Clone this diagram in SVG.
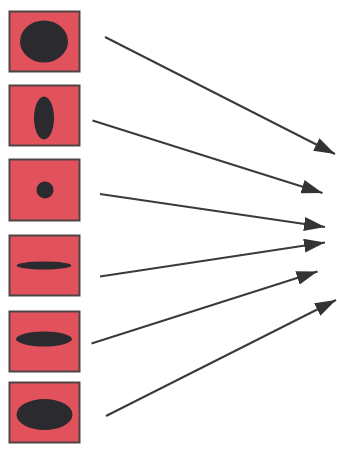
<svg xmlns="http://www.w3.org/2000/svg" width="337" height="450" viewBox="0 0 337 450">
<style>
.box{fill:#e2525c;stroke:#4e4446;stroke-width:2}
.blob{fill:#2b2a2e}
.arr{stroke:#3a3a3a;stroke-width:2;fill:none;marker-end:url(#ah)}
</style>
<defs>
<marker id="ah" markerUnits="userSpaceOnUse" markerWidth="22" markerHeight="14" refX="21" refY="7" orient="auto">
<path d="M0,0 L21,7 L0,14 Z" fill="#333"/>
</marker>
</defs>
<rect width="337" height="450" fill="#fff"/>
<g id="node1"><rect class="box" x="9.5" y="11.5" width="70" height="60"/><ellipse class="blob" cx="44" cy="41.5" rx="24" ry="21"/></g>
<g id="node2"><rect class="box" x="9.5" y="85.5" width="70" height="60"/><ellipse class="blob" cx="44" cy="118" rx="10" ry="21.5"/></g>
<g id="node3"><rect class="box" x="9.5" y="159.5" width="70" height="61"/><circle class="blob" cx="45" cy="190" r="8.5"/></g>
<g id="node4"><rect class="box" x="9.5" y="235.5" width="70" height="60"/><ellipse class="blob" cx="44" cy="265.5" rx="27.5" ry="4"/></g>
<g id="node5"><rect class="box" x="9.5" y="311.5" width="70" height="60"/><ellipse class="blob" cx="44" cy="339" rx="28" ry="7.5"/></g>
<g id="node6"><rect class="box" x="9.5" y="382.5" width="70" height="60"/><ellipse class="blob" cx="44.5" cy="414.5" rx="28" ry="15.5"/></g>
<g id="connectors">
<line class="arr" x1="105" y1="37" x2="335" y2="154"/>
<line class="arr" x1="92.5" y1="120.5" x2="322.5" y2="193"/>
<line class="arr" x1="100" y1="194" x2="325" y2="227"/>
<line class="arr" x1="100" y1="276.5" x2="325" y2="242.5"/>
<line class="arr" x1="91.5" y1="343.5" x2="317.5" y2="271.5"/>
<line class="arr" x1="106" y1="416" x2="336" y2="300"/>
</g>
</svg>
